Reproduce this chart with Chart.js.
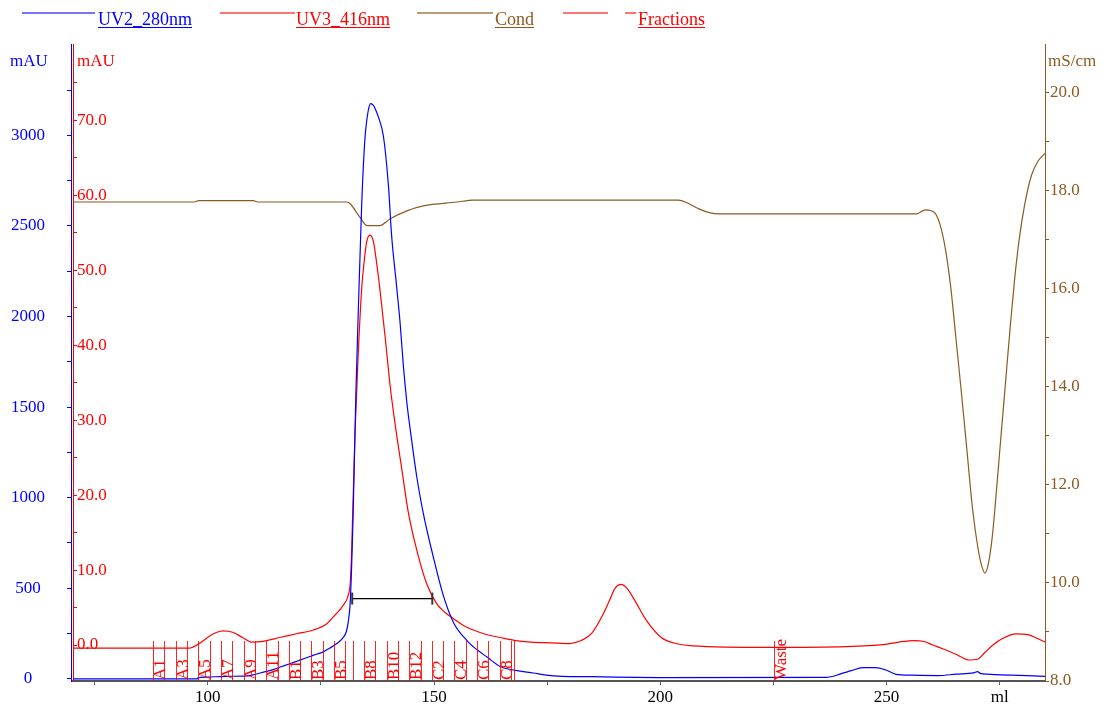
<!DOCTYPE html>
<html lang="en">
<head>
<meta charset="UTF-8">
<title>UV2_280nm / UV3_416nm / Cond</title>
<script src="https://cdn.jsdelivr.net/npm/chart.js"></script>
<style>
    body { margin: 0; background: #fff; }
    #wrap { width: 1109px; height: 706px; }
</style>
</head>
<body>
<div id="wrap"><canvas id="chrom" width="1109" height="706"></canvas></div>
<script>
// UV2_280nm trace (ml, mAU)
const uv2Ml = [70.2, 95, 97.7, 97.8, 99.6, 104, 108, 110, 112, 114.4, 116, 118.1, 120, 121.8, 123.5, 125.5, 127, 128.5, 129.8, 130.6, 131.0, 131.5, 132.1, 132.7, 133.2, 134.0, 134.7, 135.4, 136.0, 136.6, 137.1, 137.7, 138.8, 139.9, 140.6, 141.7, 142.5, 143.2, 144.0, 144.7, 146.2, 147.6, 149.9, 152.1, 154.3, 157.3, 159.5, 161.7, 164.6, 167.2, 169.1, 171.9, 174.8, 178.3, 185, 190, 199.6, 236.7, 238.2, 239.7, 242.2, 244.7, 247.5, 249.7, 252.1, 255.7, 261.5, 265.4, 269.2, 270.1, 270.7, 272.2, 277.7, 285];
const uv2Mau = [0, 0, 0, 5, 9, 14, 15, 22, 35, 51, 65, 83, 100, 116, 132, 149, 170, 195, 225, 260, 310, 440, 900, 1560, 1990, 2620, 2975, 3130, 3175, 3165, 3140, 3100, 2995, 2725, 2450, 2170, 1960, 1730, 1520, 1380, 1110, 915, 665, 455, 310, 210, 160, 120, 68, 50, 42, 32, 20, 14, 12, 9, 7, 8, 14, 26, 45, 62, 62, 50, 25, 20, 18, 26, 33, 40, 30, 26, 20, 14];

// UV3_416nm trace (ml, mAU)
const uv3Ml = [70.2, 96, 98.1, 100.4, 102, 103.3, 105.5, 107.7, 109.6, 112.2, 115.9, 119.6, 123.3, 126.2, 127.5, 129.9, 131.0, 131.5, 131.8, 132.5, 133.2, 134.0, 134.6, 135.1, 135.8, 136.6, 137.3, 138.0, 139.2, 140.3, 141.4, 142.9, 144.3, 146.2, 148.4, 150.6, 152.5, 154.3, 156.5, 158.7, 161.5, 164.6, 168, 171.3, 175.7, 179.9, 182.5, 185.0, 187.5, 188.8, 190.0, 191.3, 192.6, 194.3, 196.8, 200.2, 202.8, 207.1, 224, 241, 249.7, 252.7, 256.0, 258.1, 260.2, 262.4, 265.2, 268.3, 270.1, 271.7, 273.5, 275.7, 278.6, 281.2, 283.2, 285];
const uv3Mau = [-0.4, -0.4, 0.2, 1.2, 1.7, 1.9, 1.7, 1.0, 0.4, 0.5, 1.0, 1.5, 2.0, 2.8, 3.6, 5.3, 6.6, 8.5, 13, 28, 38.4, 47.6, 51.5, 53.8, 54.7, 53.8, 51, 47.6, 41, 34.5, 29.4, 23.3, 17.7, 12.6, 8.1, 5.5, 4.3, 3.5, 2.6, 2.0, 1.4, 1.0, 0.6, 0.4, 0.3, 0.2, 0.6, 1.7, 4.3, 6.0, 7.6, 8.1, 7.6, 6.0, 3.4, 1.0, 0.3, -0.1, -0.3, -0.2, 0.1, 0.4, 0.6, 0.5, 0, -0.5, -1.2, -2.0, -1.9, -1.0, 0, 0.9, 1.5, 1.4, 0.9, 0.4];

// Cond trace (ml, mS/cm)
const condMl = [70.2, 97, 98, 110, 111, 130.8, 131.5, 133.6, 135.2, 138.0, 140.3, 144, 147.6, 155, 158.7, 204, 206, 208.5, 211, 213, 256.7, 258.5, 260.5, 261.8, 263.0, 264.2, 265.3, 266.5, 267.75, 269.0, 270.2, 271.0, 271.7, 272.4, 273.3, 274.2, 275.1, 276.2, 277.3, 278.3, 279.3, 280.5, 282.0, 283.5, 285];
const condMs = [17.76, 17.76, 17.79, 17.79, 17.76, 17.76, 17.72, 17.45, 17.28, 17.28, 17.42, 17.58, 17.68, 17.76, 17.8, 17.8, 17.74, 17.62, 17.54, 17.52, 17.52, 17.6, 17.55, 17.3, 16.8, 16.0, 15.0, 13.9, 12.7, 11.5, 10.7, 10.35, 10.2, 10.35, 10.9, 11.8, 12.8, 14.0, 15.2, 16.2, 17.0, 17.7, 18.3, 18.6, 18.75];

// fraction marks (ml) and their labels
const fractionMl = [87.9, 90.4, 92.9, 95.4, 97.9, 100.4, 102.9, 105.4, 107.9, 110.4, 112.9, 115.4, 117.9, 120.4, 122.9, 125.4, 127.9, 130.4, 132.0, 134.5, 137.0, 139.5, 142.0, 144.5, 147.0, 149.5, 152.0, 154.5, 157.0, 159.5, 162.0, 164.5, 167.0, 167.7, 225.2];
const fractionLabels = ['A1', '', 'A3', '', 'A5', '', 'A7', '', 'A9', '', 'A11', '', 'B1', '', 'B3', '', 'B5', '', '', 'B8', '', 'B10', '', 'B12', '', 'C2', '', 'C4', '', 'C6', '', 'C8', '', '', 'Waste'];

// peak width bar (ml start/end, UV3 level)
const peakBarMl = [131.9, 149.6];
const peakBarLevel = 6.2;

// axis ticks
const xTicks = [75, 100, 125, 150, 175, 200, 225, 250, 275];
const xTickLabels = ['', '100', '', '150', '', '200', '', '250', 'ml'];
const uv2Ticks = [0, 250, 500, 750, 1000, 1250, 1500, 1750, 2000, 2250, 2500, 2750, 3000, 3250];
const uv2TickLabels = ['0', '', '500', '', '1000', '', '1500', '', '2000', '', '2500', '', '3000', ''];
const uv3Ticks = [0, 5, 10, 15, 20, 25, 30, 35, 40, 45, 50, 55, 60, 65, 70, 75];
const uv3TickLabels = ['0.0', '', '10.0', '', '20.0', '', '30.0', '', '40.0', '', '50.0', '', '60.0', '', '70.0', ''];
const condTicks = [8, 9, 10, 11, 12, 13, 14, 15, 16, 17, 18, 19, 20];
const condTickLabels = ['8.0', '', '10.0', '', '12.0', '', '14.0', '', '16.0', '', '18.0', '', '20.0'];

const BLUE = '#0000ff';
const RED = '#ff0000';
const BROWN = '#8c5a1e';
const SERIF = '"Liberation Serif", "Times New Roman", serif';

Chart.defaults.font.family = SERIF;
Chart.defaults.font.size = 17;

function pts(xs, ys) {
    return xs.map((x, i) => ({ x: x, y: ys[i] }));
}

function fixedTicks(values) {
    return function (scale) {
        scale.ticks = values.map(v => ({ value: v }));
    };
}

// keep the axis boxes at fixed sizes, without label overhang padding
function fixWidth(w) {
    return function (s) {
        s.width = w;
        s.paddingTop = 0;
        s.paddingBottom = 0;
    };
}

// fractions, legend and axis titles
const overlay = {
    id: 'overlay',
    afterDatasetsDraw(chart) {
        const ctx = chart.ctx;
        const xs = chart.scales.x;
        const bottom = chart.chartArea.bottom;
        ctx.save();
        ctx.font = '17px ' + SERIF;
        fractionMl.forEach((ml, i) => {
            const px = Math.round(xs.getPixelForValue(ml));
            ctx.fillStyle = 'rgba(255,0,0,0.85)';
            ctx.fillRect(px, bottom - 40, 1, 40);
            if (fractionLabels[i]) {
                ctx.fillStyle = RED;
                ctx.save();
                ctx.translate(px + 12, bottom - 1);
                ctx.rotate(-Math.PI / 2);
                ctx.textAlign = 'left';
                ctx.textBaseline = 'alphabetic';
                ctx.fillText(fractionLabels[i], 0, 0);
                ctx.restore();
            }
        });
        ctx.restore();
    },
    afterDraw(chart) {
        const ctx = chart.ctx;
        ctx.save();
        // legend
        const items = [
            { text: 'UV2_280nm', color: BLUE, soft: 'rgba(0,0,255,0.55)', line: [22, 95], tx: 98 },
            { text: 'UV3_416nm', color: RED, soft: 'rgba(255,0,0,0.55)', line: [220, 295], tx: 296 },
            { text: 'Cond', color: BROWN, soft: 'rgba(140,90,30,0.6)', line: [417, 493], tx: 495 },
            { text: 'Fractions', color: RED, soft: 'rgba(255,0,0,0.55)', line: [563, 608], dash: [625, 636], tx: 638 }
        ];
        ctx.font = '18px ' + SERIF;
        ctx.textBaseline = 'alphabetic';
        ctx.textAlign = 'left';
        items.forEach(it => {
            ctx.fillStyle = it.soft;
            ctx.fillRect(it.line[0], 12, it.line[1] - it.line[0], 2);
            if (it.dash) {
                ctx.fillRect(it.dash[0], 12, it.dash[1] - it.dash[0], 2);
            }
            ctx.fillStyle = it.color;
            ctx.fillText(it.text, it.tx, 25);
            const w = ctx.measureText(it.text).width;
            ctx.fillRect(it.tx, 27, w, 1);
        });
        // axis titles
        ctx.font = '17px ' + SERIF;
        ctx.fillStyle = BLUE;
        ctx.textAlign = 'center';
        ctx.fillText('mAU', 29, 66);
        ctx.fillStyle = RED;
        ctx.textAlign = 'left';
        ctx.fillText('mAU', 77, 66);
        ctx.fillStyle = BROWN;
        ctx.fillText('mS/cm', 1048, 66);
        ctx.restore();
    }
};

new Chart(document.getElementById('chrom'), {
    type: 'line',
    data: {
        datasets: [
            {
                label: 'UV2_280nm',
                data: pts(uv2Ml, uv2Mau),
                yAxisID: 'yUv2',
                borderColor: BLUE,
                borderWidth: 1.2,
                pointRadius: 0,
                cubicInterpolationMode: 'monotone'
            },
            {
                label: 'peak',
                data: pts(peakBarMl, [peakBarLevel, peakBarLevel]),
                yAxisID: 'yUv3',
                borderColor: '#000',
                borderWidth: 1.2,
                pointStyle: 'line',
                rotation: 90,
                pointRadius: 6,
                pointBorderColor: '#333',
                pointBorderWidth: 2
            },
            {
                label: 'UV3_416nm',
                data: pts(uv3Ml, uv3Mau),
                yAxisID: 'yUv3',
                borderColor: RED,
                borderWidth: 1.2,
                pointRadius: 0,
                cubicInterpolationMode: 'monotone'
            },
            {
                label: 'Cond',
                data: pts(condMl, condMs),
                yAxisID: 'yCond',
                borderColor: BROWN,
                borderWidth: 1.2,
                pointRadius: 0,
                cubicInterpolationMode: 'monotone'
            }
        ]
    },
    options: {
        responsive: false,
        animation: false,
        layout: { padding: { top: 44 } },
        plugins: {
            legend: { display: false },
            tooltip: { enabled: false }
        },
        scales: {
            x: {
                type: 'linear',
                min: 70.2,
                max: 285,
                afterBuildTicks: fixedTicks(xTicks),
                afterFit(s) {
                    s.height = 25;
                    s.paddingLeft = 0;
                    s.paddingRight = 0;
                },
                grid: { drawOnChartArea: false, tickLength: 4, color: '#666' },
                border: { color: '#555', width: 2 },
                ticks: {
                    color: '#000',
                    padding: 2,
                    maxRotation: 0,
                    autoSkip: false,
                    callback: (v, i) => xTickLabels[i]
                }
            },
            yUv2: {
                type: 'linear',
                position: 'left',
                weight: 1,
                min: -12,
                max: 3504,
                afterBuildTicks: fixedTicks(uv2Ticks),
                afterFit: fixWidth(71),
                grid: { drawOnChartArea: false, tickLength: 4, color: BLUE },
                border: { color: BLUE, width: 1 },
                ticks: {
                    color: BLUE,
                    padding: 22,
                    crossAlign: 'center',
                    autoSkip: false,
                    callback: (v, i) => uv2TickLabels[i]
                }
            },
            yUv3: {
                type: 'linear',
                position: 'left',
                weight: 0,
                min: -4.8,
                max: 80.2,
                afterBuildTicks: fixedTicks(uv3Ticks),
                afterFit: fixWidth(2),
                grid: { drawOnChartArea: false, tickLength: -4, color: RED },
                border: { color: RED, width: 1 },
                ticks: {
                    color: RED,
                    mirror: true,
                    padding: 4,
                    autoSkip: false,
                    callback: (v, i) => uv3TickLabels[i]
                }
            },
            yCond: {
                type: 'linear',
                position: 'right',
                min: 8,
                max: 20.98,
                afterBuildTicks: fixedTicks(condTicks),
                afterFit: fixWidth(64),
                grid: { drawOnChartArea: false, tickLength: 4, color: BROWN },
                border: { color: BROWN, width: 1 },
                ticks: {
                    color: BROWN,
                    padding: 1,
                    autoSkip: false,
                    callback: (v, i) => condTickLabels[i]
                }
            }
        }
    },
    plugins: [overlay]
});
</script>
</body>
</html>
